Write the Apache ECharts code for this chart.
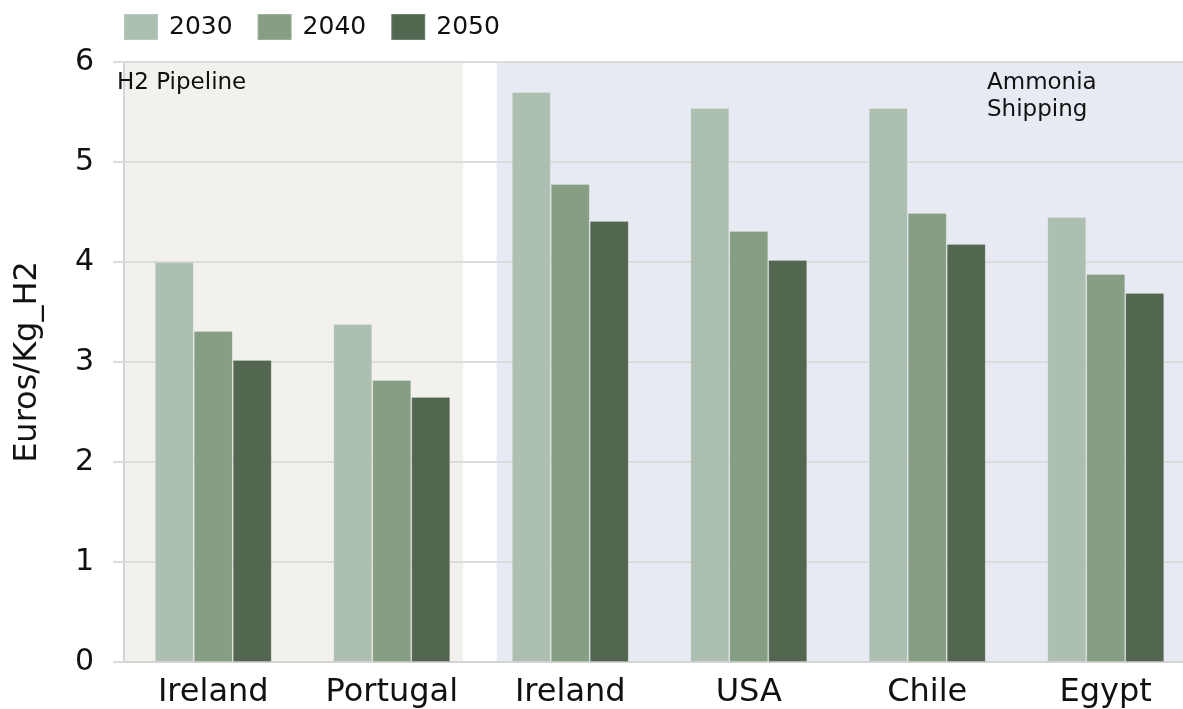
<!DOCTYPE html>
<html>
<head>
<meta charset="utf-8">
<script src="https://cdn.jsdelivr.net/npm/echarts@6/dist/echarts.min.js"></script>
<style>
html,body{margin:0;padding:0;background:#fff;overflow:hidden;width:1183px;height:709px;}
#chart{width:1195px;height:709px;}
</style>
</head>
<body>
<div id="chart"></div>
<script>
const categories = ['Ireland', 'Portugal', 'Ireland', 'USA', 'Chile', 'Egypt'];
const seriesNames = ['2030', '2040', '2050'];
const v2030 = [4.00, 3.38, 5.70, 5.54, 5.54, 4.45];
const v2040 = [3.31, 2.82, 4.78, 4.31, 4.49, 3.88];
const v2050 = [3.02, 2.65, 4.41, 4.02, 4.18, 3.69];
const yTicks = [0, 1, 2, 3, 4, 5, 6];
const regionLabels = ['H2 Pipeline', 'Ammonia\nShipping'];

const colors = ['#adbfb0', '#869e84', '#526650'];
const FONT = '"DejaVu Sans", Verdana, sans-serif';

const chart = echarts.init(document.getElementById('chart'));
const barSeries = [v2030, v2040, v2050].map((vals, i) => ({
  name: seriesNames[i],
  type: 'bar',
  data: vals,
  barGap: '0%',
  barCategoryGap: '34.5%',
  itemStyle: { color: colors[i], borderColor: 'rgba(255,255,255,0.18)', borderWidth: 1 },
  z: 3
}));

const option = {
  animation: false,
  color: colors,
  textStyle: { fontFamily: FONT },
  legend: {
    left: 123, top: 13, padding: 0,
    itemWidth: 34, itemHeight: 26, itemGap: 24,
    icon: 'rect',
    data: seriesNames,
    textStyle: { fontSize: 25, color: '#111', fontFamily: FONT, padding: [0, 0, 0, 6] }
  },
  grid: { left: 124, right: 0, top: 62, bottom: 45 },
  xAxis: [{
    type: 'category',
    data: categories,
    boundaryGap: true,
    axisLine: { show: true, lineStyle: { color: '#d4d4d4', width: 2 } },
    axisTick: { show: false },
    axisLabel: { fontSize: 32, color: '#111', margin: 15, fontFamily: FONT, interval: 0 },
    z: 1
  }, {
    type: 'value', min: 0, max: 6, show: false
  }],
  yAxis: {
    type: 'value',
    min: yTicks[0], max: yTicks[yTicks.length - 1], interval: 1,
    name: 'Euros/Kg_H2',
    nameLocation: 'middle',
    nameGap: 80,
    nameTextStyle: { fontSize: 32, color: '#111', fontFamily: FONT },
    axisLine: { show: true, lineStyle: { color: '#d4d4d4', width: 2 } },
    axisTick: { show: true, length: 11, lineStyle: { color: '#dcdcdc', width: 2 } },
    axisLabel: { fontSize: 30, color: '#111', margin: 30, fontFamily: FONT },
    splitLine: { show: true, lineStyle: { color: '#dcdcdc', width: 2 } },
    z: 1
  },
  series: [{
    type: 'line',
    xAxisIndex: 1,
    data: [],
    z: -10,
    silent: true,
    clip: false,
    markArea: {
      silent: true,
      z: -10,
      data: [
        [{ coord: [-0.03, 6.04], itemStyle: { color: '#f2f1ed' } }, { coord: [1.898, 0] }],
        [{ coord: [2.088, 6.04], itemStyle: { color: '#e7eaf2' } }, { coord: [6, 0] }]
      ]
    }
  }].concat(barSeries),
  graphic: [
    { type: 'text', left: 117, top: 72, z: 100, style: { text: regionLabels[0], font: '23px ' + FONT, fill: '#111' } },
    { type: 'text', left: 987, top: 70, z: 100, style: { text: regionLabels[1], font: '23px ' + FONT, fill: '#111', lineHeight: 27 } }
  ]
};
chart.setOption(option);
</script>
</body>
</html>
